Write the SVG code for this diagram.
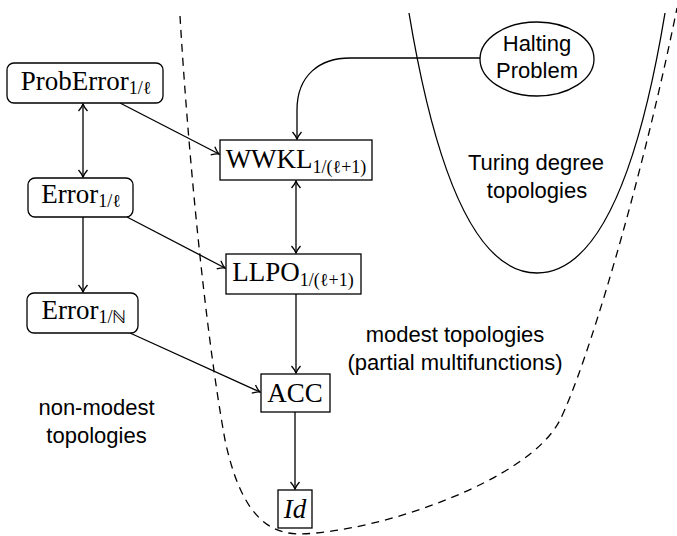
<svg xmlns="http://www.w3.org/2000/svg" width="677" height="536" viewBox="0 0 677 536">
<style>
.box{fill:#fff;stroke:#000;stroke-width:1.3}
.edge{fill:none;stroke:#000;stroke-width:1.3}
.region{fill:none;stroke:#000;stroke-width:1.3}
.dash{fill:none;stroke:#000;stroke-width:1.3;stroke-dasharray:8 6}
.lbl{font-family:"Liberation Serif","Times New Roman",serif;font-size:27px;fill:#000;text-anchor:middle}
.sub{font-size:18px}
.sans{font-family:"Liberation Sans",Arial,sans-serif;font-size:22px;fill:#000;text-anchor:middle}
</style>
<defs>
<marker id="arr" markerUnits="userSpaceOnUse" viewBox="-10 -6 12 12" refX="0" refY="0" markerWidth="12" markerHeight="12" orient="auto-start-reverse">
<path d="M-7,-4.5 Q-3,-1 0,0 Q-3,1 -7,4.5" fill="none" stroke="#000" stroke-width="1.3"/>
</marker>
</defs>
<g id="regions">
<path class="dash" d="M180,16 C188,150 205,330 225,440 C240,510 265,534 300,534 C380,532 530,480 560,420 C585,370 640,190 677,8"/>
<path class="region" d="M409,13 C440,200 485,273 537,273 C589,273 634,200 665,13"/>
<text class="sans" x="536" y="170">Turing degree</text>
<text class="sans" x="537" y="198">topologies</text>
<text class="sans" x="455" y="342">modest topologies</text>
<text class="sans" x="455" y="370">(partial multifunctions)</text>
<text class="sans" x="96.5" y="415">non-modest</text>
<text class="sans" x="96.5" y="443">topologies</text>
</g>
<g id="connectors">
<path class="edge" d="M120,103 L219,154" marker-end="url(#arr)"/>
<path class="edge" d="M127,217 L225,268" marker-end="url(#arr)"/>
<path class="edge" d="M130,333 L260,392" marker-end="url(#arr)"/>
<path class="edge" d="M83,104 L83,177" marker-start="url(#arr)" marker-end="url(#arr)"/>
<path class="edge" d="M83,217 L83,292" marker-end="url(#arr)"/>
<path class="edge" d="M296,181 L296,253" marker-start="url(#arr)" marker-end="url(#arr)"/>
<path class="edge" d="M296,294 L296,373" marker-end="url(#arr)"/>
<path class="edge" d="M295,412 L295,489" marker-end="url(#arr)"/>
<path class="edge" d="M480,58 L350,58 C320,58 297,75 297,110 L297,139" marker-end="url(#arr)"/>
</g>
<g id="halting">
<ellipse class="box" cx="537" cy="59" rx="57" ry="37"/>
<text class="sans" x="537" y="51">Halting</text>
<text class="sans" x="537" y="78">Problem</text>
</g>
<g id="proberror">
<rect class="box" x="7" y="63" width="156" height="40" rx="7"/>
<text class="lbl" x="86" y="90">ProbError<tspan class="sub" dy="4">1/ℓ</tspan></text>
</g>
<g id="error">
<rect class="box" x="28" y="178" width="105" height="39" rx="7"/>
<text class="lbl" x="81" y="203">Error<tspan class="sub" dy="4">1/ℓ</tspan></text>
</g>
<g id="errorN">
<rect class="box" x="27" y="293" width="111" height="40" rx="7"/>
<text class="lbl" x="84" y="319">Error<tspan class="sub" dy="4">1/ℕ</tspan></text>
</g>
<g id="wwkl">
<rect class="box" x="220" y="140" width="152" height="40"/>
<text class="lbl" x="296" y="168">WWKL<tspan class="sub" dy="5">1/(ℓ+1)</tspan></text>
</g>
<g id="llpo">
<rect class="box" x="226" y="254" width="135" height="40"/>
<text class="lbl" x="293" y="281">LLPO<tspan class="sub" dy="5">1/(ℓ+1)</tspan></text>
</g>
<g id="acc">
<rect class="box" x="261" y="374" width="69" height="38"/>
<text class="lbl" x="295" y="402">ACC</text>
</g>
<g id="id">
<rect class="box" x="278" y="490" width="34" height="38"/>
<text class="lbl" x="295" y="518" font-style="italic">Id</text>
</g>
</svg>
